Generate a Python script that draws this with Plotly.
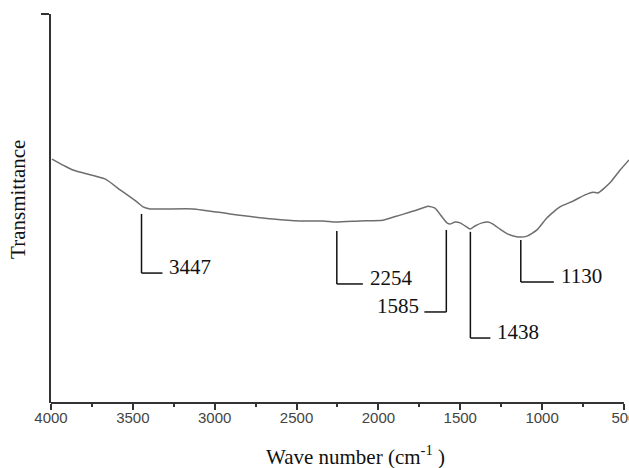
import plotly.graph_objects as go

# ---- spectrum data ----
wavenumber = [3994, 3866, 3670, 3578, 3475, 3438, 3395, 3133, 2906, 2644, 2479, 2338,
              2259, 2112, 1972, 1868, 1764, 1697, 1654, 1611, 1581, 1563, 1532, 1501,
              1459, 1440, 1410, 1367, 1330, 1300, 1257, 1208, 1147, 1092, 1031, 970,
              891, 811, 738, 689, 658, 585, 523, 469]
transmittance = [62.7, 59.9, 57.6, 54.8, 51.7, 50.4, 49.9, 49.9, 48.6, 47.3, 46.8, 46.8,
                 46.5, 46.8, 47.0, 48.3, 49.6, 50.6, 50.1, 47.8, 46.3, 46.0, 46.5, 46.3,
                 45.2, 44.7, 45.5, 46.3, 46.5, 46.0, 44.7, 43.4, 42.7, 42.9, 44.5, 47.6,
                 50.4, 51.9, 53.5, 54.2, 54.0, 56.6, 59.9, 62.5]

# ---- peak labels ----
peaks = [3447, 2254, 1585, 1438, 1130]
# leader line layout (transmittance units / wavenumber units)
line_top = [48.6, 44.2, 44.5, 44.0, 41.9]
line_elbow = [33.4, 30.6, 23.4, 16.7, 31.1]
elbow_len = [-128, -159, 134, -122, -202]   # negative = toward lower wavenumber (right)

x_ticks = [4000, 3500, 3000, 2500, 2000, 1500, 1000, 500]
x_minor = [3750, 3250, 2750, 2250, 1750, 1250, 750]

SERIF = "Times New Roman, Liberation Serif, serif"
SANS = "Arial, Liberation Sans, sans-serif"

fig = go.Figure()
fig.add_trace(go.Scatter(x=wavenumber, y=transmittance, mode="lines",
                         line=dict(color="#6e6e6e", width=1.5, shape="spline", smoothing=0.5),
                         hoverinfo="skip", showlegend=False))

shapes = []
annotations = []
for p, top, elb, ln in zip(peaks, line_top, line_elbow, elbow_len):
    xe = p + ln
    shapes.append(dict(type="line", xref="x", yref="y", x0=p, x1=p, y0=top, y1=elb,
                       line=dict(color="#111", width=1.5)))
    shapes.append(dict(type="line", xref="x", yref="y", x0=p, x1=xe, y0=elb, y1=elb,
                       line=dict(color="#111", width=1.5)))
    right = ln < 0
    annotations.append(dict(x=xe, y=elb, xref="x", yref="y", text=str(p), showarrow=False,
                            xanchor="left" if right else "right",
                            xshift=5 if right else -3, yanchor="middle", yshift=6,
                            font=dict(family=SERIF, size=21, color="#111")))

# x-axis line (ends at 500)
shapes.append(dict(type="line", xref="x", yref="paper", x0=x_ticks[0], x1=x_ticks[-1],
                   y0=0, y1=0, line=dict(color="#333", width=1.8)))

annotations.append(dict(x=0.526, y=-0.135, xref="paper", yref="paper",
                        text="Wave number (cm<sup>-1</sup> )", showarrow=False,
                        xanchor="center", yanchor="middle",
                        font=dict(family=SERIF, size=21, color="#111")))
annotations.append(dict(x=0, y=0.522, xref="paper", yref="paper", text="Transmittance",
                        showarrow=False, textangle=-90, xanchor="center", yanchor="middle",
                        xshift=-33, font=dict(family=SERIF, size=21, color="#111")))

fig.update_layout(
    width=629, height=468,
    margin=dict(l=51, r=0, t=14, b=65, autoexpand=False),
    paper_bgcolor="white", plot_bgcolor="white",
    shapes=shapes, annotations=annotations,
    xaxis=dict(range=[4000, 469], tickvals=x_ticks, ticktext=[str(v) for v in x_ticks],
               automargin=False,
               ticks="outside", ticklen=6, tickwidth=1.5, tickcolor="#333",
               ticklabeloverflow="allow", ticklabelstandoff=-5,
               showline=False, showgrid=False, zeroline=False,
               tickfont=dict(family=SANS, size=15, color="#444"),
               minor=dict(tickvals=x_minor, ticks="outside", ticklen=3,
                          tickwidth=1.5, tickcolor="#333")),
    yaxis=dict(range=[0, 100], tickvals=[100], showticklabels=False, automargin=False,
               ticks="outside", ticklen=8, tickwidth=1.5, tickcolor="#333",
               showline=True, linecolor="#333", linewidth=1.8,
               showgrid=False, zeroline=False),
)

fig.write_html("out.html")
